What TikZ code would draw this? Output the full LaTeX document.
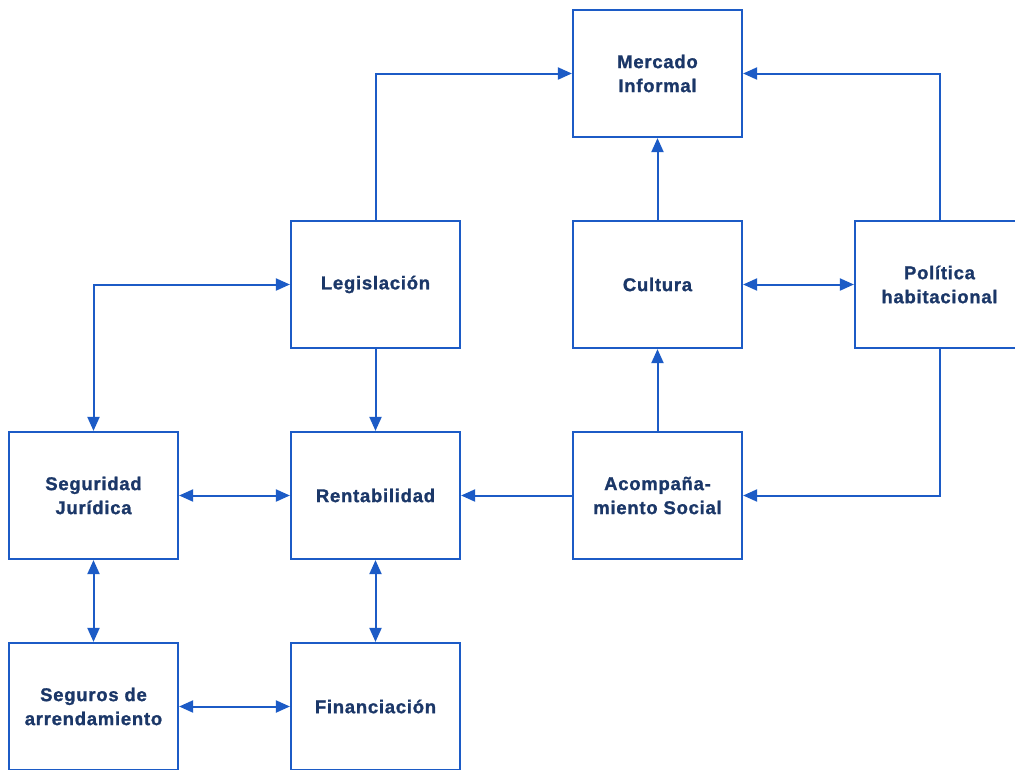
\documentclass[tikz,border=0pt]{standalone}
\usepackage{fontspec}
\setmainfont{Liberation Sans}
\usetikzlibrary{arrows.meta}
\definecolor{lineblue}{HTML}{1C5BC6}
\definecolor{textnavy}{HTML}{1B3768}
\begin{document}
\begin{tikzpicture}[x=1pt,y=-1pt,
  box/.style={draw=lineblue, line width=2.2pt, fill=white,
    minimum width=169pt, minimum height=127pt, inner sep=0pt,
    align=center, text=textnavy,
    font=\addfontfeatures{LetterSpace=4,FakeBold=1.2}\fontsize{18.5}{24}\selectfont\bfseries},
  link/.style={draw=lineblue, line width=2pt,
    -{Triangle[length=14pt,width=12pt]}},
  dlink/.style={draw=lineblue, line width=2pt,
    {Triangle[length=14pt,width=12pt]}-{Triangle[length=14pt,width=12pt]}}]
\clip (0,0) rectangle (1015,769);
\fill[white] (0,0) rectangle (1015,769);

% boxes
\node[box] (merc) at (657.5,73.5) {Mercado\\Informal};
\node[box] (legis) at (375.5,284.5) {Legislación};
\node[box] (cult) at (657.5,284.5) {Cultura};
\node[box] (polit) at (939.5,284.5) {Política\\habitacional};
\node[box] (segj) at (93.5,495.5) {Seguridad\\Jurídica};
\node[box] (rent) at (375.5,495.5) {Rentabilidad};
\node[box] (acom) at (657.5,495.5) {Acompaña-\\miento Social};
\node[box] (segar) at (93.5,706.5) {Seguros de\\arrendamiento};
\node[box] (fin) at (375.5,706.5) {Financiación};

% connectors
\draw[link] (legis.north) |- (merc.west);
\draw[link] (cult.north) -- (merc.south);
\draw[link] (polit.north) |- (merc.east);
\draw[dlink] (cult.east) -- (polit.west);
\draw[dlink] (segj.north) |- (legis.west);
\draw[link] (legis.south) -- (rent.north);
\draw[dlink] (segj.east) -- (rent.west);
\draw[link] (acom.west) -- (rent.east);
\draw[link] (acom.north) -- (cult.south);
\draw[link] (polit.south) |- (acom.east);
\draw[dlink] (segj.south) -- (segar.north);
\draw[dlink] (rent.south) -- (fin.north);
\draw[dlink] (segar.east) -- (fin.west);
\end{tikzpicture}
\end{document}
